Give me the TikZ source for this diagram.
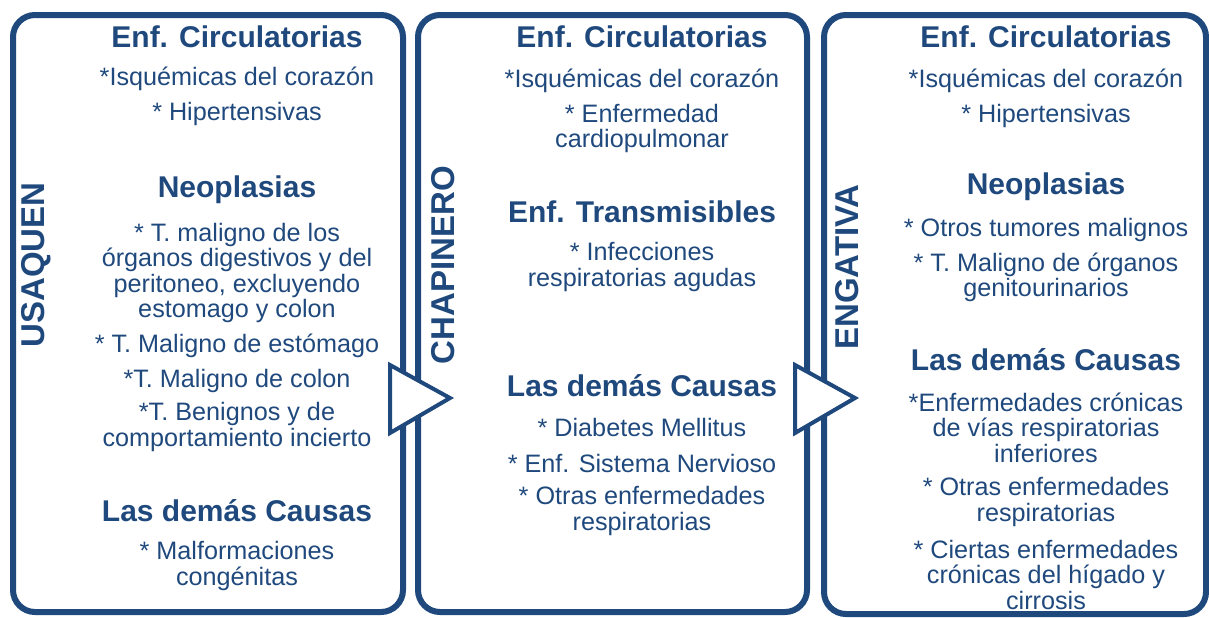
\documentclass[tikz,border=0pt]{standalone}
\usepackage{fontspec}
\setmainfont{Liberation Sans}
\usetikzlibrary{positioning}
\definecolor{navy}{HTML}{1F497D}

\begin{document}
\begin{tikzpicture}[x=0.5pt, y=-0.5pt,
  panel/.style={draw=navy, line width=3pt, rounded corners=11pt},
  zone/.style={font=\fontsize{16.5}{18}\selectfont\bfseries, text=navy, rotate=90, inner sep=0pt},
  head/.style={font=\fontsize{15}{17}\selectfont\bfseries, text=navy, inner sep=0pt},
  item/.style={font=\fontsize{12.6}{12.75}\selectfont, text=navy, align=center, inner sep=0pt, yshift=-1.25pt},
  tri/.style={draw=navy, fill=white, line width=2pt, line join=miter}]
\useasboundingbox (0,0) rectangle (1209,617);
% panels
\draw[panel] (13,15) rectangle (403,612);
\draw[panel] (418,15) rectangle (807,612);
\draw[panel] (824,15) rectangle (1206,614);
% arrows between panels
\draw[tri] (390,365) -- (450,398) -- (390,433) -- cycle;
\draw[tri] (795,365) -- (855,398) -- (795,433) -- cycle;
% zone labels
\node[zone] (usaquen) at (36,265) {USAQUEN};
\node[zone] (chapinero) at (443,265) {CHAPINERO};
\node[zone] (engativa) at (847,267) {ENGATIVA};
% Usaquen
\node[head] (u-circ) at (237,37) {Enf. Circulatorias};
\node[item] (u-circ1) at (237,76) {*Isquémicas del corazón};
\node[item] (u-circ2) at (237,111) {* Hipertensivas};
\node[head] (u-neo) at (237,190) {Neoplasias};
\node[item] (u-neo1) at (237,270.5) {* T. maligno de los\\órganos digestivos y del\\peritoneo, excluyendo\\estomago y colon};
\node[item] (u-neo2) at (237,343) {* T. Maligno de estómago};
\node[item] (u-neo3) at (237,378) {*T. Maligno de colon};
\node[item] (u-neo4) at (237,424.5) {*T. Benignos y de\\comportamiento incierto};
\node[head] (u-dem) at (237,511) {Las demás Causas};
\node[item] (u-dem1) at (237,563.5) {* Malformaciones\\congénitas};
% Chapinero
\node[head] (c-circ) at (642,37) {Enf. Circulatorias};
\node[item] (c-circ1) at (642,78) {*Isquémicas del corazón};
\node[item] (c-circ2) at (642,126) {* Enfermedad\\cardiopulmonar};
\node[head] (c-tra) at (642,212) {Enf. Transmisibles};
\node[item] (c-tra1) at (642,264.5) {* Infecciones\\respiratorias agudas};
\node[head] (c-dem) at (642,386) {Las demás Causas};
\node[item] (c-dem1) at (642,425) {* Diabetes Mellitus};
\node[item] (c-dem2) at (642,461) {* Enf. Sistema Nervioso};
\node[item] (c-dem3) at (642,508.5) {* Otras enfermedades\\respiratorias};
% Engativa
\node[head] (e-circ) at (1046,37) {Enf. Circulatorias};
\node[item] (e-circ1) at (1046,78) {*Isquémicas del corazón};
\node[item] (e-circ2) at (1046,113) {* Hipertensivas};
\node[head] (e-neo) at (1046,187) {Neoplasias};
\node[item] (e-neo1) at (1046,227) {* Otros tumores malignos};
\node[item] (e-neo2) at (1046,275) {* T. Maligno de órganos\\genitourinarios};
\node[head] (e-dem) at (1046,360) {Las demás Causas};
\node[item] (e-dem1) at (1046,425) {*Enfermedades crónicas\\de vías respiratorias\\inferiores};
\node[item] (e-dem2) at (1046,499.5) {* Otras enfermedades\\respiratorias};
\node[item] (e-dem3) at (1046,572) {* Ciertas enfermedades\\crónicas del hígado y\\cirrosis};
\end{tikzpicture}
\end{document}
